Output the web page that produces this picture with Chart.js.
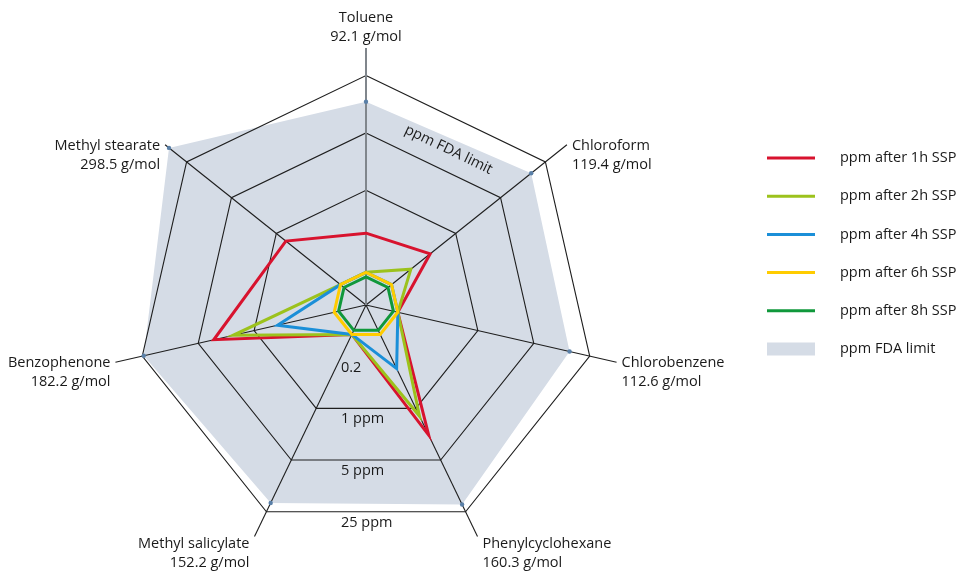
<!DOCTYPE html>
<html><head><meta charset="utf-8">
<script src="https://cdn.jsdelivr.net/npm/chart.js@4.4.1/dist/chart.umd.min.js"></script>
<style>html,body{margin:0;padding:0;background:#fff;}#wrap{width:960px;height:572px;position:relative;}</style>
</head><body><div id="wrap"><canvas id="c"></canvas></div>
<script>
// ---- data (ppm) ----
const categories = ['Toluene','Chloroform','Chlorobenzene','Phenylcyclohexane','Methyl salicylate','Benzophenone','Methyl stearate'];
const molarMasses = ['92.1 g/mol','119.4 g/mol','112.6 g/mol','160.3 g/mol','152.2 g/mol','182.2 g/mol','298.5 g/mol'];
const ppm1h = [0.30, 0.40, 0.10, 2.30, 0.10, 3.20, 0.71];
const ppm2h = [0.10, 0.20, 0.10, 1.27, 0.10, 1.83, 0.10];
const ppm4h = [0.10, 0.10, 0.10, 0.29, 0.10, 0.51, 0.10];
const ppm6h = [0.10, 0.10, 0.10, 0.10, 0.10, 0.10, 0.10];
const ppm8h = [0.088, 0.088, 0.088, 0.088, 0.088, 0.088, 0.088];
const fdaLimit = [12, 15, 14, 20, 19, 24, 47];
const tickValues = [0.2, 1, 5, 25];
const tickLabels = ['0.2', '1 ppm', '5 ppm', '25 ppm'];
const seriesLabels = ['ppm after 1h SSP','ppm after 2h SSP','ppm after 4h SSP','ppm after 6h SSP','ppm after 8h SSP','ppm FDA limit'];

// log (base 5) radial axis: centre = 0.04 ppm
const BASE = 0.04;
const toU = v => Math.log(v / BASE) / Math.log(5);
const AXIS_MAX = 4.48;
const FONT = '"Open Sans", "Noto Sans", sans-serif';
const TXT = '#1a1a1a';

const lineDs = (label, data, color, order) => ({
  label, data: data.map(toU), borderColor: color, backgroundColor: color,
  borderWidth: 3, pointRadius: 0, fill: false, order, borderJoinStyle: 'miter'
});

const datasets = [
  lineDs(seriesLabels[0], ppm1h, '#d8132e', 5),
  lineDs(seriesLabels[1], ppm2h, '#9cc21c', 4),
  lineDs(seriesLabels[2], ppm4h, '#1b8fd8', 3),
  lineDs(seriesLabels[3], ppm6h, '#ffcc00', 2),
  lineDs(seriesLabels[4], ppm8h, '#10983b', 1),
  { label: seriesLabels[5], data: fdaLimit.map(toU), backgroundColor: '#d5dce6', borderColor: 'rgba(0,0,0,0)',
    borderWidth: 0, fill: true, pointRadius: 2.2, pointBackgroundColor: '#5a80a8', pointBorderWidth: 0, order: 10 }
];

const annot = {
  id: 'annot',
  afterDraw(chart) {
    const s = chart.scales.r, ctx = chart.ctx;
    ctx.save();
    ctx.font = '14.5px ' + FONT;
    ctx.fillStyle = TXT;
    ctx.textBaseline = 'middle';
    // point labels
    categories.forEach((name, i) => {
      const p = s.getPointPosition(i, s.drawingArea);
      if (Math.abs(p.x - s.xCenter) < 2) {
        ctx.textAlign = 'center';
        ctx.fillText(name, p.x, p.y - 30);
        ctx.fillText(molarMasses[i], p.x, p.y - 11);
      } else {
        const right = p.x > s.xCenter;
        ctx.textAlign = right ? 'left' : 'right';
        const x = p.x + (right ? 5 : -5);
        const y = p.y + (p.y > s.yCenter + s.drawingArea * 0.5 ? 7 : 1);
        ctx.fillText(name, x, y);
        ctx.fillText(molarMasses[i], x, y + 19);
      }
    });
    // tick labels along bottom
    ctx.textAlign = 'left';
    const cosHalf = Math.cos(Math.PI / categories.length);
    tickValues.forEach((v, k) => {
      const r = s.getDistanceFromCenterForValue(toU(v));
      ctx.fillText(tickLabels[k], s.xCenter - 25, s.yCenter + r * cosHalf + 11);
    });
    // FDA limit label along outer edge
    const r4 = s.getDistanceFromCenterForValue(toU(tickValues[tickValues.length - 1]));
    const a = s.getPointPosition(0, r4), b = s.getPointPosition(1, r4);
    const ang = Math.atan2(b.y - a.y, b.x - a.x);
    const tx = Math.cos(ang), ty = Math.sin(ang), nx = -ty, ny = tx;
    ctx.save();
    ctx.translate((a.x + b.x) / 2 + nx * 31 + tx * 7, (a.y + b.y) / 2 + ny * 31 + ty * 7);
    ctx.rotate(ang);
    ctx.textAlign = 'center';
    ctx.fillText(seriesLabels[5], 0, 0);
    ctx.restore();
    // legend
    const lx = 767, ly = 158, step = 38.2;
    chart.data.datasets.forEach((ds, i) => {
      const y = ly + i * step;
      if (ds.fill) {
        ctx.fillStyle = ds.backgroundColor;
        ctx.fillRect(lx, y - 6.5, 48, 13);
      } else {
        ctx.strokeStyle = ds.borderColor;
        ctx.lineWidth = 3;
        ctx.beginPath(); ctx.moveTo(lx, y); ctx.lineTo(lx + 48, y); ctx.stroke();
      }
      ctx.fillStyle = TXT;
      ctx.textAlign = 'left';
      ctx.fillText(ds.label, 840, y);
    });
    ctx.restore();
  }
};

new Chart(document.getElementById('c'), {
  type: 'radar',
  data: { labels: categories, datasets },
  plugins: [annot],
  options: {
    responsive: true, maintainAspectRatio: false, animation: false,
    layout: { padding: { left: 109, right: 337, top: 48, bottom: 10 } },
    elements: { line: { tension: 0 } },
    plugins: { legend: { display: false }, tooltip: { enabled: false }, filler: { drawTime: 'beforeDraw' } },
    scales: {
      r: {
        min: 0, max: AXIS_MAX, startAngle: 0,
        ticks: { display: false },
        afterBuildTicks: s => { s.ticks = tickValues.map(v => ({ value: toU(v) })); },
        afterFit: s => {
          const ca = s.chart.chartArea;
          if (ca) {
            s.xCenter = (ca.left + ca.right) / 2;
            s.yCenter = (ca.top + ca.bottom) / 2;
            s.drawingArea = Math.min(ca.right - ca.left, ca.bottom - ca.top) / 2;
          }
        },
        grid: { color: '#1e1e1e', lineWidth: 1.1 },
        angleLines: {
          color: c => c.index === 0 ? '#80868c' : '#1e1e1e',
          lineWidth: c => c.index === 0 ? 2 : 1.1
        },
        pointLabels: { display: false }
      }
    }
  }
});
</script></body></html>
